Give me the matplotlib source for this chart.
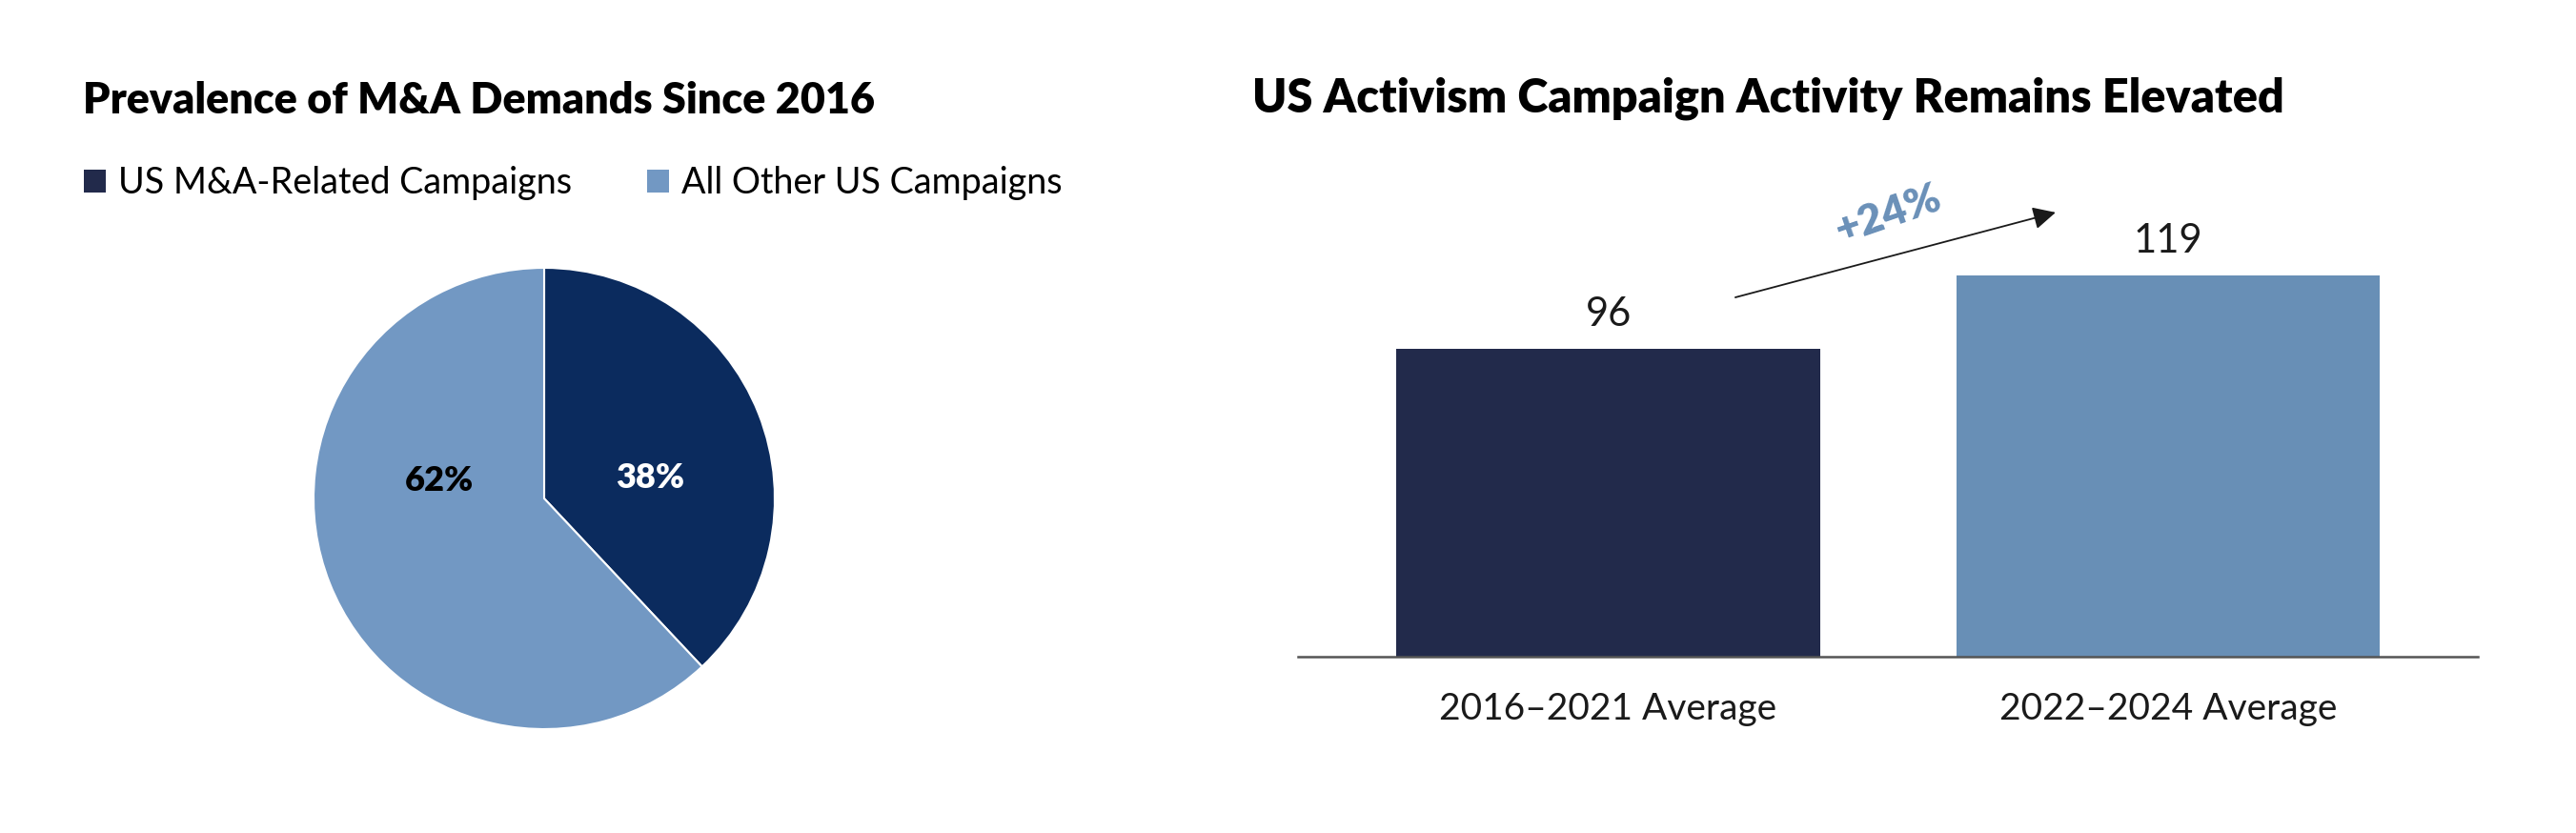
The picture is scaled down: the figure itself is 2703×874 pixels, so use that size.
import matplotlib
matplotlib.use('Agg')
import matplotlib.pyplot as plt
from matplotlib.patches import Patch

plt.rcParams['font.family'] = ['Lato', 'DejaVu Sans']

# Data
pie_labels = ['US M&A-Related Campaigns', 'All Other US Campaigns']
pie_shares = [38, 62]
bar_categories = ['2016\u20132021 Average', '2022\u20132024 Average']
bar_values = [96, 119]

# Colours
navy_pie = '#0b2b5e'
light_pie = '#7298c3'
navy_bar = '#222a4b'
light_bar = '#688fb6'
accent = '#6a90b8'

W, H = 2703, 874
fig = plt.figure(figsize=(W / 100, H / 100), dpi=100)

# Titles
fig.text(87 / W, 1 - 119 / H, 'Prevalence of M&A Demands Since 2016',
         fontsize=32.3, fontweight='heavy', color='black', va='baseline', ha='left')
fig.text(1314 / W, 1 - 118 / H, 'US Activism Campaign Activity Remains Elevated',
         fontsize=35, fontweight='heavy', color='black', va='baseline', ha='left')

# Legend for pie
handles = [Patch(facecolor=navy_bar, edgecolor='none'),
           Patch(facecolor=light_pie, edgecolor='none')]
fig.legend(handles, pie_labels, loc='center left',
           bbox_to_anchor=(88 / W, 1 - 192 / H), ncol=2, frameon=False,
           fontsize=27.2, handlelength=0.6, handleheight=0.6,
           handletextpad=0.35, columnspacing=2.1, borderpad=0, borderaxespad=0)

# Pie chart
cx, cy, r = 571, 523, 242
ax1 = fig.add_axes([(cx - r) / W, (H - cy - r) / H, 2 * r / W, 2 * r / H])
wedges, _ = ax1.pie(pie_shares, colors=[navy_pie, light_pie], startangle=90,
                    counterclock=False, radius=1,
                    wedgeprops=dict(edgecolor='white', linewidth=1.5))
ax1.set_xlim(-1, 1)
ax1.set_ylim(-1, 1)
ax1.set_aspect('equal')
ax1.axis('off')
ax1.text(0.46, 0.087, f'{pie_shares[0]}%', ha='center', va='center',
         fontsize=26, fontweight='heavy', color='white')
ax1.text(-0.455, 0.075, f'{pie_shares[1]}%', ha='center', va='center',
         fontsize=26, fontweight='heavy', color='black')

# Bar chart
base_y = 689
top_y = 150
ax2 = fig.add_axes([1362 / W, (H - base_y) / H, 1238 / W, (base_y - top_y) / H])
xs = [0, 1]
ax2.bar(xs, bar_values, width=0.757, color=[navy_bar, light_bar])
ax2.set_xlim(-0.554, 1.553)
ax2.set_ylim(0, (base_y - top_y) / 3.363)
for s in ['top', 'right', 'left']:
    ax2.spines[s].set_visible(False)
ax2.spines['bottom'].set_color('#555555')
ax2.spines['bottom'].set_linewidth(1.8)
ax2.set_yticks([])
ax2.set_xticks(xs)
ax2.set_xticklabels(bar_categories, fontsize=28, color='#1a1a1a')
ax2.tick_params(axis='x', length=0, pad=27)

for x, v in zip(xs, bar_values):
    ax2.annotate(str(v), xy=(x, v), xytext=(0, 26), textcoords='offset points',
                 ha='center', va='center', fontsize=30, color='#1a1a1a')

# Growth arrow
growth = bar_values[1] / bar_values[0] - 1
ax2.annotate('', xy=(xs[1] - 0.201, bar_values[1] + 19.6),
             xytext=(xs[0] + 0.227, bar_values[0] + 16.1),
             arrowprops=dict(arrowstyle='-|>', color='#1a1a1a', lw=1.3,
                             mutation_scale=36, shrinkA=0, shrinkB=0))
ax2.text(0.5, 138.0, f'+{growth:.0%}', ha='center', va='center',
         rotation=19, fontsize=32, fontweight='heavy', color=accent)

fig.savefig('out.png', dpi=100, facecolor='white')
